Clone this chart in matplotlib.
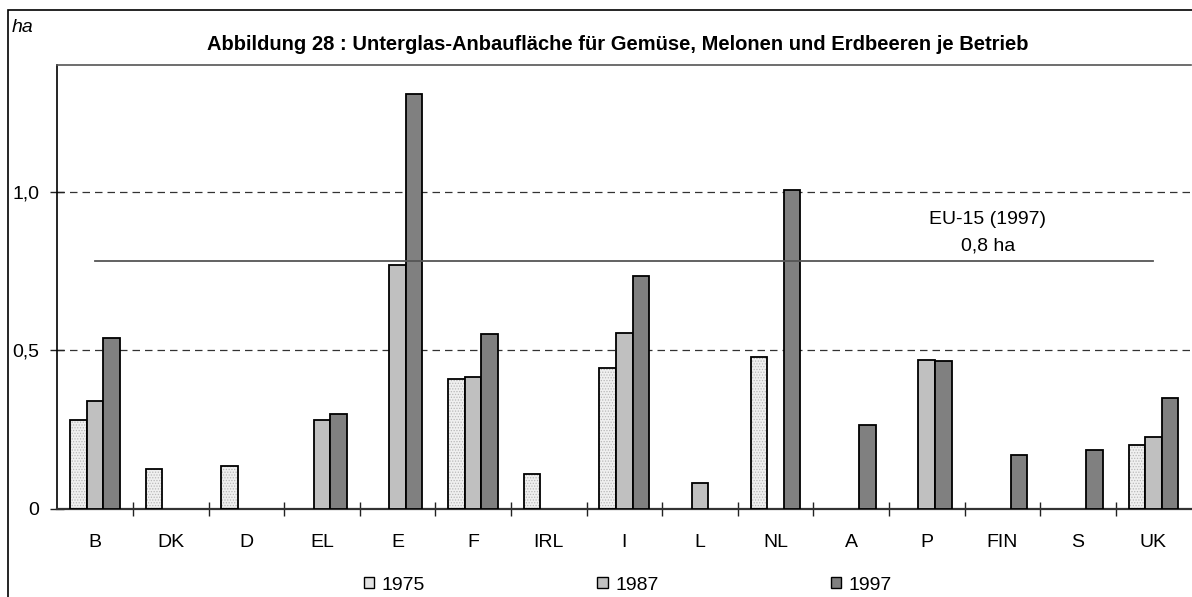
import numpy as np
import matplotlib
matplotlib.use('Agg')
import matplotlib.pyplot as plt
from matplotlib.patches import Rectangle, Patch

plt.rcParams['font.family'] = ['Liberation Sans', 'DejaVu Sans']
plt.rcParams['hatch.linewidth'] = 0.6

# Unterglas-Anbaufläche je Betrieb (ha), nan = keine Angabe
countries = ['B', 'DK', 'D', 'EL', 'E', 'F', 'IRL', 'I', 'L', 'NL', 'A', 'P', 'FIN', 'S', 'UK']
nan = np.nan
area_1975 = [0.28, 0.125, 0.135, nan, nan, 0.41, 0.11, 0.445, nan, 0.48, nan, nan, nan, nan, 0.20]
area_1987 = [0.34, nan, nan, 0.28, 0.77, 0.415, nan, 0.555, 0.08, nan, nan, 0.47, nan, nan, 0.225]
area_1997 = [0.54, nan, nan, 0.30, 1.31, 0.55, nan, 0.735, nan, 1.005, 0.265, 0.465, 0.17, 0.185, 0.35]
years = ['1975', '1987', '1997']
eu15_avg = 0.78
yticks = [0, 0.5, 1.0]
ytick_labels = ['0', '0,5', '1,0']

W, H = 1192, 597
fs = 14
fig = plt.figure(figsize=(W / 100, H / 100), dpi=100)

# outer frame
fig.patches.append(Rectangle((8 / W, -0.05), 1.0, 1 - 10 / H + 0.05, transform=fig.transFigure,
                             fill=False, edgecolor='black', linewidth=1.2, zorder=0))

ax = fig.add_axes([57.3 / W, (H - 508.7) / H, (1191.3 - 57.3) / W, (508.7 - 65) / H])

x = np.arange(len(countries))
bw = 0.22
fills = ['#f0f0f0', '#c0c0c0', '#808080']
series = [area_1975, area_1987, area_1997]

for i, (vals, fc) in enumerate(zip(series, fills)):
    pos = x + (i - 1) * bw
    if i == 0:
        # stippled fill for the oldest year
        ax.bar(pos, vals, bw, color=fc, hatch='......', edgecolor='#b8b8b8', linewidth=0, zorder=2)
        ax.bar(pos, vals, bw, fill=False, edgecolor='black', linewidth=1.3, zorder=3)
    else:
        ax.bar(pos, vals, bw, color=fc, edgecolor='black', linewidth=1.3, zorder=3)

# EU-15 average line
ax.plot([x[0], x[-1]], [eu15_avg, eu15_avg], color='#555555', linewidth=1.3, zorder=4)
ax.text(11.81, 0.913, 'EU-15 (1997)', ha='center', va='center', fontsize=fs)
ax.text(11.81, 0.83, f'{eu15_avg:.1f} ha'.replace('.', ','), ha='center', va='center', fontsize=fs)

ax.set_xlim(-0.5, len(countries) - 0.5)
ax.set_ylim(0, 1.4)

ax.set_yticks(yticks)
ax.set_yticklabels(ytick_labels, fontsize=fs)
ax.tick_params(axis='y', direction='inout', length=9.5, width=1, pad=8, color='#222222')
ax.grid(axis='y', color='#333333', linestyle=(0, (6, 4)), linewidth=0.9)
ax.set_axisbelow(True)

ax.set_xticks(x[:-1] + 0.5)
ax.set_xticklabels([])
ax.set_xticks(x, minor=True)
ax.set_xticklabels(countries, minor=True, fontsize=fs)
ax.tick_params(axis='x', which='major', direction='inout', length=9.5, width=1, color='#222222')
ax.tick_params(axis='x', which='minor', length=0, pad=18)

ax.spines['right'].set_visible(False)
ax.spines['top'].set_color('#555555')
ax.spines['top'].set_linewidth(1.2)
ax.spines['left'].set_linewidth(1.2)
ax.spines['bottom'].set_linewidth(1.6)
ax.spines['bottom'].set_color('#333333')

fig.text(618 / W, 1 - 45 / H, 'Abbildung 28 : Unterglas-Anbaufläche für Gemüse, Melonen und Erdbeeren je Betrieb',
         ha='center', va='center', fontsize=14.5, fontweight='bold')
fig.text(12 / W, 1 - 27 / H, 'ha', ha='left', va='center', fontsize=fs, style='italic')

handles = [Patch(facecolor=fc, edgecolor='black', linewidth=1) for fc in ['#e4e4e4', '#c0c0c0', '#808080']]
fig.legend(handles, years, loc='center', bbox_to_anchor=(628 / W, 12 / H), ncol=3, frameon=False,
           fontsize=fs, handlelength=0.52, handleheight=0.52, handletextpad=0.4, columnspacing=8.85,
           borderpad=0, borderaxespad=0)

fig.savefig('out.png', dpi=100)
